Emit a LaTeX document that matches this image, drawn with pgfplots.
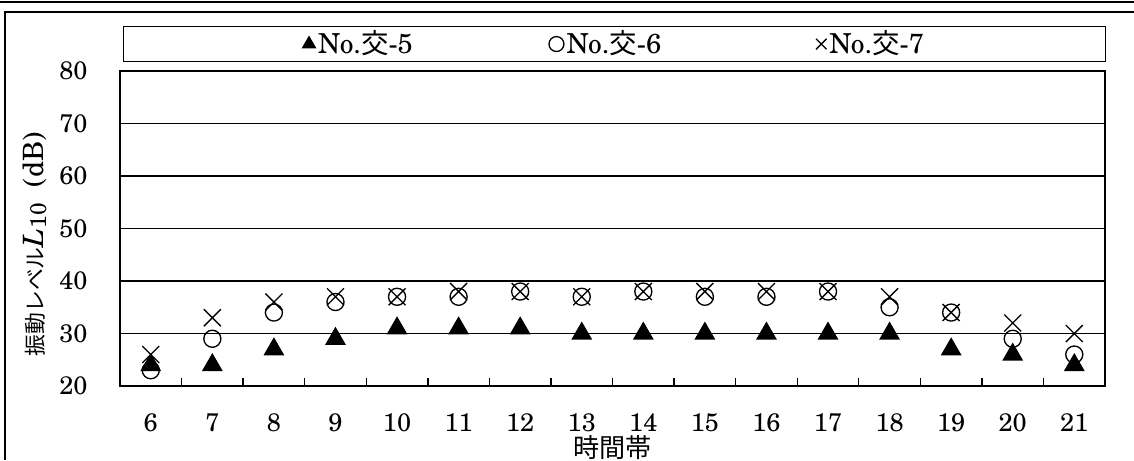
\documentclass[border=0pt]{standalone}
\usepackage{pgfplots}
\pgfplotsset{compat=1.18}
\usepackage{fontspec}
\setmainfont{TeX Gyre Schola}
\newfontfamily\cjk{Noto Sans CJK JP}

% vibration level L10 by hour
\pgfplotstableread{
h  k5 k6 k7
6  24 23 26
7  24 29 33
8  27 34 36
9  29 36 37
10 31 37 37
11 31 37 38
12 31 38 38
13 30 37 37
14 30 38 38
15 30 37 38
16 30 37 38
17 30 38 38
18 30 35 37
19 27 34 34
20 26 29 32
21 24 26 30
}\data

\begin{document}
\fontsize{9.5}{11}\selectfont
\begin{tikzpicture}
\useasboundingbox (-45pt,-27.75pt) rectangle (380.25pt,144.75pt);
\begin{axis}[
  scale only axis,
  width=369.4pt, height=118.1pt,
  xmin=5.5, xmax=21.5,
  ymin=20, ymax=80,
  % category boundaries carry the ticks, the hours carry the labels
  xtick={6.5,7.5,...,20.5},
  xticklabels={},
  extra x ticks={6,...,21},
  extra x tick style={major tick length=0pt, xticklabel style={inner sep=0pt, anchor=north, yshift=-10.1pt}},
  ytick={20,30,...,80},
  major tick length=3pt,
  tick pos=left,
  tick align=inside,
  x tick style={line width=0.5pt,black},
  y tick style={draw=none},
  ymajorgrids,
  major grid style={line width=0.5pt,black},
  axis line style={line width=1pt},
  /pgf/number format/assume math mode=true,
  tick label style={font=\fontsize{9.5}{11}\selectfont},
  yticklabel style={inner sep=0pt, anchor=east, xshift=-12pt},
  xlabel={\fontsize{9.8}{11}\selectfont\cjk 時間帯},
  ylabel={{\fontsize{8.2}{10}\selectfont\cjk 振動レベル}\textit{L}\lower1pt\hbox{\fontsize{8.5}{9}\selectfont 10}\kern6pt(dB)},
  every axis x label/.style={at={(axis description cs:0.5,-0.1558)},anchor=north,inner sep=0pt},
  every axis y label/.style={at={(axis description cs:-0.0864,0.092)},rotate=90,anchor=west,inner sep=0pt,font=\fontsize{10.5}{12}\selectfont},
  legend columns=3,
  legend style={at={(0.5,1)}, anchor=south, yshift=3.4pt, xshift=0.8pt,
    draw=black, line width=0.4pt,
    inner xsep=67pt, inner ysep=1pt,
    nodes={inner ysep=0.5pt, inner xsep=1pt},
    font=\fontsize{10.3}{12}\selectfont,
    /tikz/column 2/.append style={column sep=50pt},
    /tikz/column 4/.append style={column sep=57pt}},
  legend image code/.code={\draw[#1,mark size=2.8pt] plot coordinates {(0.1cm,0cm)};},
]
\addplot[only marks, mark=triangle*, mark size=4.1pt, black] table[x=h,y=k5] {\data};
\addlegendentry{No.{\cjk 交}-5}
\addplot[only marks, mark=o, mark size=3.2pt, black, line width=0.5pt] table[x=h,y=k6] {\data};
\addlegendentry{No.{\cjk 交}-6}
\addplot[only marks, mark=x, mark size=4.5pt, black, line width=0.5pt] table[x=h,y=k7] {\data};
\addlegendentry{No.{\cjk 交}-7}
\end{axis}
\draw[line width=0.75pt] (-45pt,144pt) -- (380.25pt,144pt);
\draw[line width=0.75pt] (380.25pt,140.25pt) -- (-43.125pt,140.25pt) -- (-43.125pt,-27.75pt);
\end{tikzpicture}
\end{document}
